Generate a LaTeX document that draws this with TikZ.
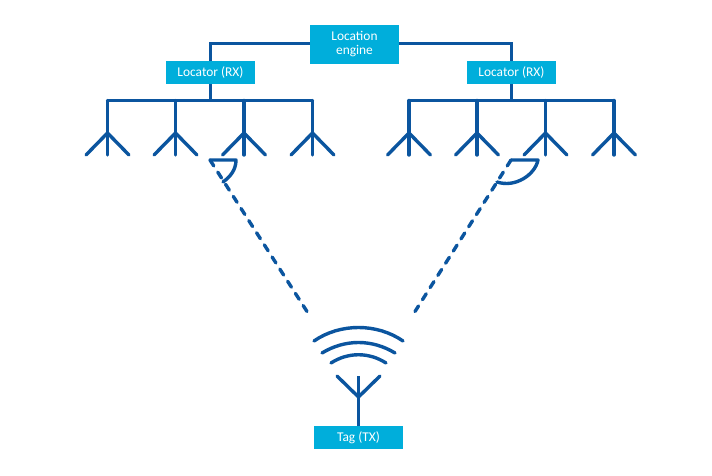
\documentclass[tikz,border=0pt]{standalone}
\usepackage{fontspec}
\setmainfont{Carlito}
\usetikzlibrary{positioning}
\definecolor{boxblue}{HTML}{00AEDB}
\definecolor{linkblue}{HTML}{0B559F}

\begin{document}
\begin{tikzpicture}[
    x=1pt, y=-1pt,
    box/.style={fill=boxblue, text=white, align=center, font=\fontsize{13.4}{14}\selectfont, inner sep=0pt, outer sep=0pt, minimum width=89pt, minimum height=23pt},
    link/.style={draw=linkblue, line width=3.4pt},
    dashlink/.style={link, line cap=round, dash pattern=on 7pt off 7.4pt},
    antenna/.style={link, line cap=round, line join=round}
]
    \fill[white] (0,0) rectangle (712,476);
    \useasboundingbox (0,0) rectangle (712,476);

    \node[box, minimum height=39pt] (engine) at (354.5,44.5) {Location\\ engine};
    \node[box, below left=-3pt and 55pt of engine] (locl) {Locator (RX)};
    \node[box, below right=-3pt and 68pt of engine] (locr) {Locator (RX)};
    \node[box] (tag) at (358.5,437.5) {Tag (TX)};

    \draw[link] (engine.west |- 0,43.5) -| (locl.north);
    \draw[link] (engine.east |- 0,43.5) -| (locr.north);

    % receive arrays
    \foreach \name/\xa/\xb/\xc/\xd in {locl/107.5/175.5/244/312.5, locr/409/477/545.5/614} {
        \coordinate (\name bus) at (\name.south |- 0,100.5);
        \draw[link] (\name.south) -- (\name bus);
        \draw[link, line cap=round] (\xa,100.5) -- (\xd,100.5);
        \foreach \x in {\xa,\xb,\xc,\xd} {
            \draw[antenna] (\x,100.5) -- (\x,155);
            \draw[antenna] (\x-21.5,155) -- (\x,133) -- (\x+21.5,155);
        }
    }

    % bearing angles
    \coordinate (raya) at (210,160);
    \coordinate (rayb) at (511,160);
    \coordinate (taga) at (307,311.5);
    \coordinate (tagb) at (415,311.5);
    \draw[antenna] (raya) -- (236,160) .. controls (236,170) and (230,177) .. (223,182);
    \draw[antenna] (rayb) -- (538,160) .. controls (535,175) and (515,188) .. (497,182);
    \draw[dashlink] (raya) -- (taga);
    \draw[dashlink] (rayb) -- (tagb);

    % tag antenna
    \coordinate (tagtop) at (358.5,376);
    \draw[link] (tag.north) -- (tagtop);
    \draw[antenna] (337,376) -- (358.5,397) -- (380,376);
    \draw[antenna] (314,341) .. controls (340,323) and (377,323) .. (403,341);
    \draw[antenna] (322,353) .. controls (345,339) and (372,339) .. (395,353);
    \draw[antenna] (331,363) .. controls (348,352) and (369,352) .. (386,363);
\end{tikzpicture}
\end{document}
